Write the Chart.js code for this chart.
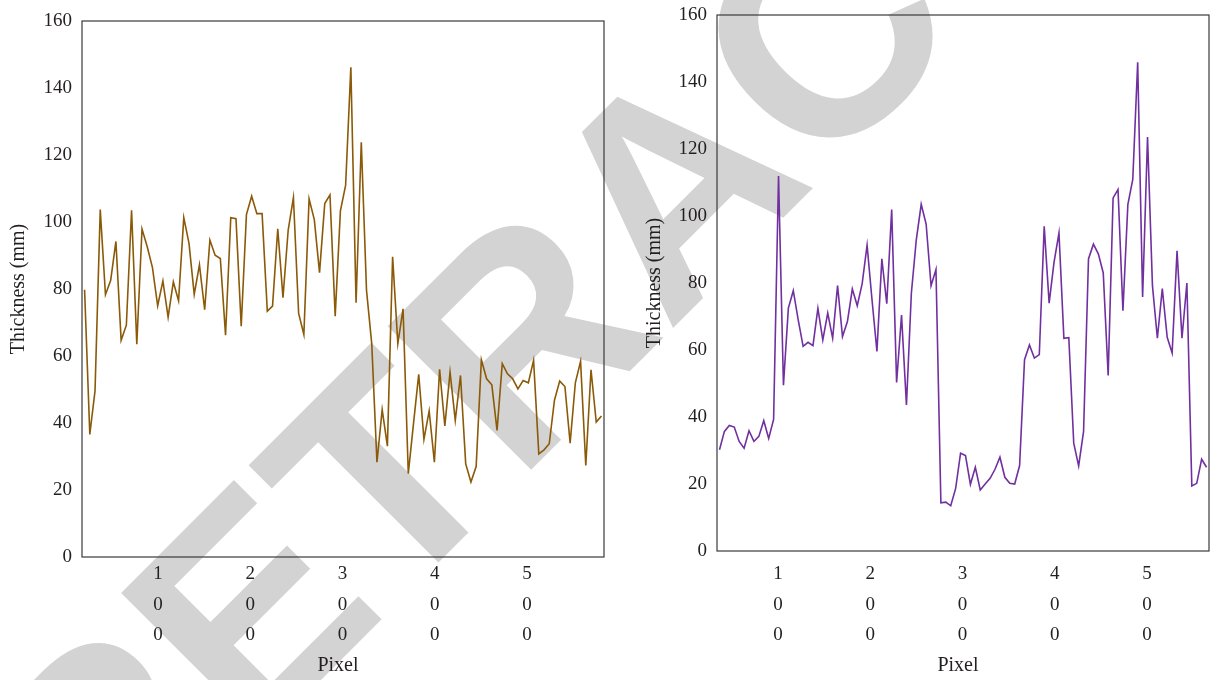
<!DOCTYPE html>
<html>
<head>
<meta charset="utf-8">
<script src="https://cdn.jsdelivr.net/npm/chart.js@4.4.1/dist/chart.umd.min.js"></script>
<style>
  html, body { margin: 0; padding: 0; background: #ffffff; }
  #page { position: relative; width: 1210px; height: 680px; overflow: hidden; }
  #stamp { position: absolute; left: 0; top: 0; }
  .panel { position: absolute; top: 0; height: 680px; }
  #leftPanel { left: 0; width: 620px; }
  #rightPanel { left: 620px; width: 590px; }
</style>
</head>
<body>
<div id="page">
  <canvas id="stamp" width="1210" height="680"></canvas>
  <div class="panel" id="leftPanel"><canvas id="leftChart"></canvas></div>
  <div class="panel" id="rightPanel"><canvas id="rightChart"></canvas></div>
</div>
<script>
// Thickness profile along the scan line, one value per sample (mm)
const leftThickness = [
  79.8, 36.6, 49.6, 103.7, 78.3, 82.6, 94.2, 64.7, 69.2, 103.5,
  63.5, 97.9, 92.6, 86.4, 75.0, 82.4, 71.6, 82.1, 76.5, 101.3,
  93.6, 78.4, 87.2, 73.8, 94.6, 90.1, 89.1, 66.2, 101.3, 101.0,
  68.9, 102.2, 107.7, 102.5, 102.5, 73.4, 74.9, 98.0, 77.4, 97.6,
  107.3, 72.7, 66.4, 106.9, 100.7, 84.9, 105.5, 108.1, 71.9, 103.3,
  111.0, 146.2, 75.9, 123.8, 79.6, 63.7, 28.3, 44.0, 33.1, 89.6,
  63.7, 74.1, 24.9, 39.8, 54.5, 35.1, 43.6, 28.3, 56.0, 39.1,
  55.2, 40.8, 54.2, 27.8, 22.4, 27.0, 58.9, 53.2, 51.4, 37.8,
  57.7, 54.7, 53.2, 50.2, 52.7, 52.0, 58.7, 30.8, 32.0, 33.8,
  46.8, 52.5, 50.9, 34.0, 52.0, 58.4, 27.3, 55.9, 40.3, 42.1
];
const rightThickness = [
  30.2, 35.7, 37.5, 37.0, 32.7, 30.7, 35.9, 32.7, 34.2, 38.9,
  33.6, 39.3, 111.9, 49.5, 72.5, 77.7, 69.0, 61.1, 62.3, 61.3,
  72.4, 63.0, 71.0, 63.5, 79.2, 64.0, 68.5, 78.2, 73.2, 79.8,
  91.3, 75.0, 59.6, 87.2, 73.8, 101.9, 50.3, 70.4, 43.6, 77.0,
  92.9, 103.5, 97.6, 79.2, 84.0, 14.4, 14.6, 13.5, 18.7, 29.2,
  28.5, 19.9, 25.0, 18.2, 20.0, 21.7, 24.4, 28.0, 22.0, 20.2,
  20.0, 25.5, 57.1, 61.5, 57.6, 58.6, 96.9, 74.0, 86.2, 94.9,
  63.5, 63.7, 32.2, 25.4, 35.7, 87.2, 91.6, 88.7, 83.0, 52.4,
  105.4, 107.9, 71.7, 103.4, 110.9, 145.9, 75.8, 123.6, 79.2, 63.5,
  78.3, 63.8, 59.1, 89.6, 63.5, 80.0, 19.4, 20.2, 27.4, 25.0
];

// Sampling grid along the pixel axis
const leftSampling = { first: 20.4, step: 5.66, min: 17.6, max: 583.5 };
const rightSampling = { first: 36.6, step: 5.333, min: 33.9, max: 567.2 };

// Axis tick labels
const pixelTicks = [100, 200, 300, 400, 500];
const thicknessRange = { min: 0, max: 160, step: 20 };

const TEXT = '#231f20';
const SERIF = '"Liberation Serif", "Times New Roman", serif';
Chart.defaults.font.family = SERIF;
Chart.defaults.color = TEXT;

// Faint stamp lettering behind both panels
(function drawStamp() {
  const ctx = document.getElementById('stamp').getContext('2d');
  ctx.save();
  ctx.fillStyle = '#d3d3d3';
  ctx.translate(100, 901);
  ctx.rotate(-Math.PI / 4);
  ctx.font = 'bold 295px "Liberation Sans", Arial, sans-serif';
  ctx.textBaseline = 'alphabetic';
  ctx.fillText('RETRACTED', 0, 0);
  ctx.restore();
})();

// Closed frame around the plotting area
const framePlugin = {
  id: 'frame',
  beforeDatasetsDraw(chart) {
    const { ctx, chartArea: a } = chart;
    ctx.save();
    ctx.strokeStyle = '#3a3a3a';
    ctx.lineWidth = 1.2;
    ctx.strokeRect(a.left, a.top, a.right - a.left, a.bottom - a.top);
    ctx.restore();
  }
};

function buildChart(canvasId, values, sampling, color, geom) {
  const points = values.map((v, i) => ({ x: sampling.first + i * sampling.step, y: v }));
  return new Chart(document.getElementById(canvasId), {
    type: 'line',
    data: {
      datasets: [{
        data: points,
        borderColor: color,
        borderWidth: 1.6,
        pointRadius: 0,
        tension: 0,
        fill: false
      }]
    },
    options: {
      responsive: true,
      maintainAspectRatio: false,
      animation: false,
      layout: { padding: { top: geom.top, right: geom.right, left: 0, bottom: 0 } },
      plugins: { legend: { display: false }, tooltip: { enabled: false } },
      scales: {
        x: {
          type: 'linear',
          min: sampling.min,
          max: sampling.max,
          grid: { display: false, drawTicks: false },
          border: { display: false },
          afterBuildTicks(scale) { scale.ticks = pixelTicks.map(v => ({ value: v })); },
          afterFit(scale) {
            scale.height = geom.xHeight;
            scale.paddingLeft = 0;
            scale.paddingRight = 0;
          },
          ticks: {
            autoSkip: false,
            maxRotation: 0,
            padding: geom.xTickPad,
            color: TEXT,
            font: { size: 19, lineHeight: 1.6 },
            callback: v => String(v).split('')
          },
          title: {
            display: true,
            text: 'Pixel  ',
            color: TEXT,
            font: { size: 20, lineHeight: 1.2 },
            padding: { top: 0, bottom: 2 }
          }
        },
        y: {
          min: thicknessRange.min,
          max: thicknessRange.max,
          grid: { display: false, drawTicks: false },
          border: { display: false },
          afterFit(scale) {
            scale.width = geom.yWidth;
            scale.paddingTop = 0;
            scale.paddingBottom = 0;
          },
          ticks: {
            stepSize: thicknessRange.step,
            padding: 10,
            color: TEXT,
            font: { size: 19 }
          },
          title: {
            display: true,
            text: 'Thickness (mm)',
            color: TEXT,
            font: { size: 20, lineHeight: 1.2 },
            padding: { top: geom.yTitlePad, bottom: 0 }
          }
        }
      }
    },
    plugins: [framePlugin]
  });
}

buildChart('leftChart', leftThickness, leftSampling, '#8a5a08',
  { top: 21, right: 16, xHeight: 123, yWidth: 82, xTickPad: 2, yTitlePad: 7 });
buildChart('rightChart', rightThickness, rightSampling, '#7030a0',
  { top: 15, right: 1, xHeight: 129, yWidth: 97, xTickPad: 8, yTitlePad: 23 });
</script>
</body>
</html>
